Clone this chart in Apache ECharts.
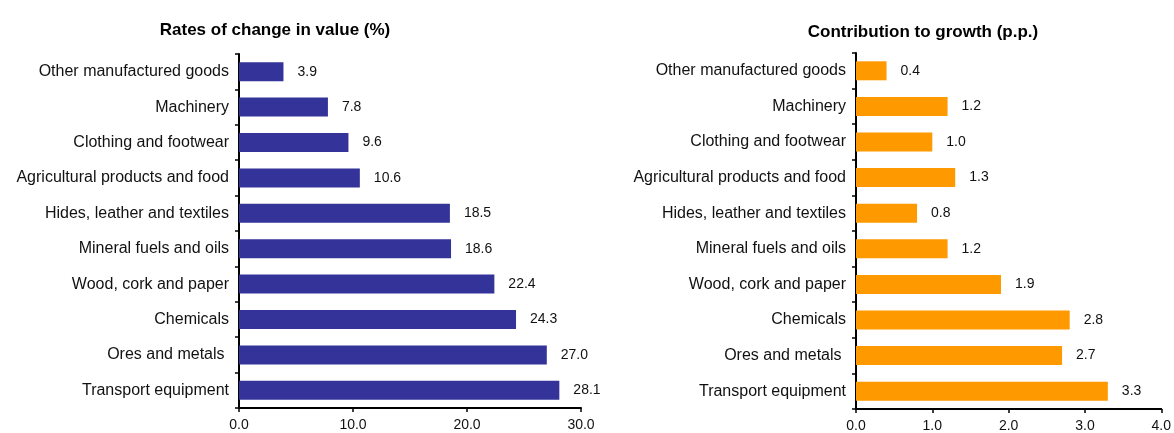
<!DOCTYPE html>
<html>
<head>
<meta charset="utf-8">
<script src="https://cdn.jsdelivr.net/npm/echarts@6/dist/echarts.min.js"></script>
<style>
  html, body { margin: 0; padding: 0; background: #fff; }
  #chart { width: 1174px; height: 433px; }
</style>
</head>
<body>
<div id="chart"></div>
<script>
// top to bottom, as in the picture
const categories = [
  'Other manufactured goods',
  'Machinery',
  'Clothing and footwear',
  'Agricultural products and food',
  'Hides, leather and textiles',
  'Mineral fuels and oils',
  'Wood, cork and paper',
  'Chemicals',
  'Ores and metals ',
  'Transport equipment'
]
const rateValues = [3.9, 7.8, 9.6, 10.6, 18.5, 18.6, 22.4, 24.3, 27.0, 28.1]
const contribValues = [0.4, 1.2, 1.0, 1.3, 0.8, 1.2, 1.9, 2.8, 2.7, 3.3]
const rateTicks = [0, 10, 20, 30]
const contribTicks = [0, 1, 2, 3, 4]

const font = '"Liberation Sans", Arial, sans-serif'
const fmt1 = (v) => Number(v).toFixed(1)

const catAxis = (gridIndex) => ({
  type: 'category',
  gridIndex,
  data: categories,
  inverse: true,
  axisLine: { lineStyle: { color: '#000', width: 2 } },
  axisTick: { show: true, length: 4, lineStyle: { color: '#000', width: 1.5 } },
  axisLabel: { color: '#111', fontSize: 16, fontFamily: font, margin: 10 },
  splitLine: { show: false }
})

const valAxis = (gridIndex, ticks) => ({
  type: 'value',
  gridIndex,
  min: ticks[0],
  max: ticks[ticks.length - 1],
  interval: ticks[1] - ticks[0],
  axisLine: { show: true, lineStyle: { color: '#000', width: 2 } },
  axisTick: { show: true, length: 4, lineStyle: { color: '#000', width: 1.5 } },
  axisLabel: { color: '#111', fontSize: 14, fontFamily: font, margin: 10, formatter: fmt1 },
  splitLine: { show: false }
})

const barSeries = (idx, data, color) => ({
  type: 'bar',
  xAxisIndex: idx,
  yAxisIndex: idx,
  data,
  barWidth: 19,
  itemStyle: { color },
  label: {
    show: true,
    position: 'right',
    distance: 14,
    color: '#111',
    fontSize: 14,
    fontFamily: font,
    formatter: (p) => fmt1(p.value)
  }
})

const option = {
  animation: false,
  title: [
    {
      text: 'Rates of change in value (%)',
      left: 270, top: 17, textAlign: 'center',
      textStyle: { fontSize: 17, fontWeight: 'bold', color: '#000', fontFamily: font }
    },
    {
      text: 'Contribution to growth (p.p.)',
      left: 918, top: 19, textAlign: 'center',
      textStyle: { fontSize: 17, fontWeight: 'bold', color: '#000', fontFamily: font }
    }
  ],
  grid: [
    { left: 239, right: 593, top: 54, bottom: 25 },
    { left: 856, right: 12, top: 53, bottom: 22 }
  ],
  xAxis: [valAxis(0, rateTicks), valAxis(1, contribTicks)],
  yAxis: [catAxis(0), catAxis(1)],
  series: [
    barSeries(0, rateValues, '#333399'),
    barSeries(1, contribValues, '#FF9900')
  ]
}

const myChart = echarts.init(document.getElementById('chart'))
myChart.setOption(option)
</script>
</body>
</html>
